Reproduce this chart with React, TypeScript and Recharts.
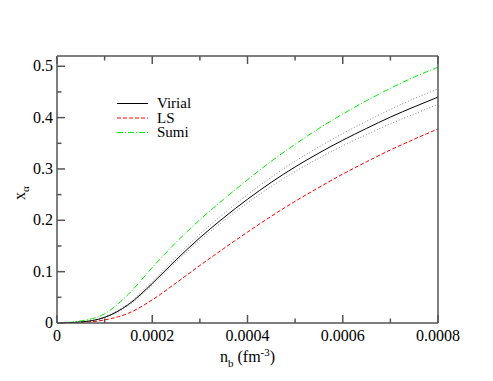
import { LineChart, Line, XAxis, YAxis, Legend } from "recharts";

const density = [0, 0.00005, 0.0001, 0.00015, 0.0002, 0.00025, 0.0003, 0.00035, 0.0004, 0.00045, 0.0005, 0.00055, 0.0006, 0.00065, 0.0007, 0.00075, 0.0008];
const virial = [0, 0.002, 0.011, 0.036, 0.077, 0.123, 0.166, 0.205, 0.241, 0.274, 0.304, 0.331, 0.356, 0.379, 0.401, 0.421, 0.44];
const virialUpper = [0, 0.002, 0.012, 0.038, 0.081, 0.129, 0.173, 0.213, 0.25, 0.284, 0.315, 0.343, 0.369, 0.393, 0.416, 0.437, 0.456];
const virialLower = [0, 0.002, 0.01, 0.034, 0.074, 0.119, 0.161, 0.199, 0.234, 0.266, 0.295, 0.321, 0.345, 0.367, 0.388, 0.407, 0.426];
const ls = [0, 0.001, 0.006, 0.019, 0.045, 0.078, 0.112, 0.145, 0.177, 0.208, 0.237, 0.264, 0.29, 0.314, 0.337, 0.358, 0.378];
const sumi = [0, 0.004, 0.018, 0.056, 0.108, 0.157, 0.201, 0.241, 0.279, 0.315, 0.348, 0.379, 0.407, 0.433, 0.457, 0.479, 0.498];

const xTicks = [0, 0.0001, 0.0002, 0.0003, 0.0004, 0.0005, 0.0006, 0.0007, 0.0008];
const xLabels = ["0", "", "0.0002", "", "0.0004", "", "0.0006", "", "0.0008"];
const yTicks = [0, 0.05, 0.1, 0.15, 0.2, 0.25, 0.3, 0.35, 0.4, 0.45, 0.5];
const yLabels = ["0", "", "0.1", "", "0.2", "", "0.3", "", "0.4", "", "0.5"];

const legendItems = [
  { name: "Virial", color: "#000000", dash: undefined },
  { name: "LS", color: "#ff0000", dash: "4 2" },
  { name: "Sumi", color: "#00ee00", dash: "6 2 1 2" },
];

const data = density.map((n, i) => ({
  n,
  virial: virial[i],
  upper: virialUpper[i],
  lower: virialLower[i],
  ls: ls[i],
  sumi: sumi[i],
}));

const font = "\"Liberation Serif\", \"DejaVu Serif\", serif";
const frame = "#555";

function BottomTick(props: any) {
  const { x, y, index } = props;
  const major = index % 2 === 0;
  return (
    <g>
      <line x1={x} x2={x} y1={y} y2={y - (major ? 8 : 4.5)} stroke={frame} strokeWidth={1.5} />
      {xLabels[index] && (
        <text x={x} y={y + 18} textAnchor="middle" fontSize={16} style={{ fontFamily: font }} fill="#000">
          {xLabels[index]}
        </text>
      )}
    </g>
  );
}

function TopTick(props: any) {
  const { x, y, index } = props;
  const major = index % 2 === 0;
  return <line x1={x} x2={x} y1={y} y2={y + (major ? 8 : 4.5)} stroke={frame} strokeWidth={1.5} />;
}

function LeftTick(props: any) {
  const { x, y, index } = props;
  const major = index % 2 === 0;
  return (
    <g>
      <line x1={x} x2={x + (major ? 8 : 4.5)} y1={y} y2={y} stroke={frame} strokeWidth={1.5} />
      {yLabels[index] && (
        <text x={x - 4} y={y + 5} textAnchor="end" fontSize={16} style={{ fontFamily: font }} fill="#000">
          {yLabels[index]}
        </text>
      )}
    </g>
  );
}

function RightTick(props: any) {
  const { x, y, index } = props;
  const major = index % 2 === 0;
  return <line x1={x} x2={x - (major ? 8 : 4.5)} y1={y} y2={y} stroke={frame} strokeWidth={1.5} />;
}

function LegendBox() {
  return (
    <svg width={110} height={50}>
      {legendItems.map((item, i) => (
        <g key={item.name}>
          <line x1={2} x2={33} y1={9.5 + i * 14.5} y2={9.5 + i * 14.5} stroke={item.color} strokeWidth={1} strokeDasharray={item.dash} />
          <text x={42} y={14 + i * 14.5} fontSize={15} style={{ fontFamily: font }} fill="#000">
            {item.name}
          </text>
        </g>
      ))}
    </svg>
  );
}

export default function App() {
  return (
    <div style={{ position: "relative", width: 493, height: 381, margin: -8, background: "#fff" }}>
      <LineChart width={493} height={381} data={data} margin={{ top: 0, right: 0, bottom: 0, left: 0 }}>
        <XAxis
          xAxisId="b"
          dataKey="n"
          type="number"
          domain={[0, 0.0008]}
          ticks={xTicks}
          height={58}
          tickSize={0}
          tickMargin={0}
          tickLine={false}
          tick={BottomTick}
          stroke={frame}
          strokeWidth={1.5}
          interval={0}
          allowDataOverflow
        />
        <XAxis
          xAxisId="t"
          orientation="top"
          dataKey="n"
          type="number"
          domain={[0, 0.0008]}
          ticks={xTicks}
          height={56}
          tickSize={0}
          tickMargin={0}
          tickLine={false}
          tick={TopTick}
          stroke={frame}
          strokeWidth={1.5}
          interval={0}
        />
        <YAxis
          yAxisId="l"
          type="number"
          domain={[0, 0.52]}
          ticks={yTicks}
          width={57}
          tickSize={0}
          tickMargin={0}
          tickLine={false}
          tick={LeftTick}
          stroke={frame}
          strokeWidth={1.5}
          interval={0}
          allowDataOverflow
        />
        <YAxis
          yAxisId="r"
          orientation="right"
          type="number"
          domain={[0, 0.52]}
          ticks={yTicks}
          width={55}
          tickSize={0}
          tickMargin={0}
          tickLine={false}
          tick={RightTick}
          stroke={frame}
          strokeWidth={1.5}
          interval={0}
        />
        <Legend
          layout="vertical"
          align="center"
          verticalAlign="middle"
          content={() => <LegendBox />}
          wrapperStyle={{ position: "absolute", left: 115, top: 94, width: 110, height: 50 }}
        />
        <Line xAxisId="b" yAxisId="l" type="monotone" dataKey="upper" stroke="#888" strokeWidth={1} strokeDasharray="1 2" dot={false} isAnimationActive={false} />
        <Line xAxisId="b" yAxisId="l" type="monotone" dataKey="lower" stroke="#888" strokeWidth={1} strokeDasharray="1 2" dot={false} isAnimationActive={false} />
        <Line xAxisId="b" yAxisId="l" type="monotone" dataKey="ls" stroke="#ff0000" strokeWidth={1} strokeDasharray="4 2" dot={false} isAnimationActive={false} />
        <Line xAxisId="b" yAxisId="l" type="monotone" dataKey="sumi" stroke="#00ee00" strokeWidth={1} strokeDasharray="6 2 1 2" dot={false} isAnimationActive={false} />
        <Line xAxisId="b" yAxisId="l" type="monotone" dataKey="virial" stroke="#000" strokeWidth={1} dot={false} isAnimationActive={false} />
      </LineChart>
      <div style={{ position: "absolute", left: 14, top: 183, fontFamily: font, fontSize: 16, transform: "rotate(-90deg)", transformOrigin: "center", whiteSpace: "nowrap" }}>
        x<sub style={{ fontSize: 11 }}>α</sub>
      </div>
      <div style={{ position: "absolute", left: 220, top: 346, fontFamily: font, fontSize: 16, whiteSpace: "nowrap" }}>
        n<sub style={{ fontSize: 11 }}>b</sub> (fm<sup style={{ fontSize: 11 }}>-3</sup>)
      </div>
    </div>
  );
}
